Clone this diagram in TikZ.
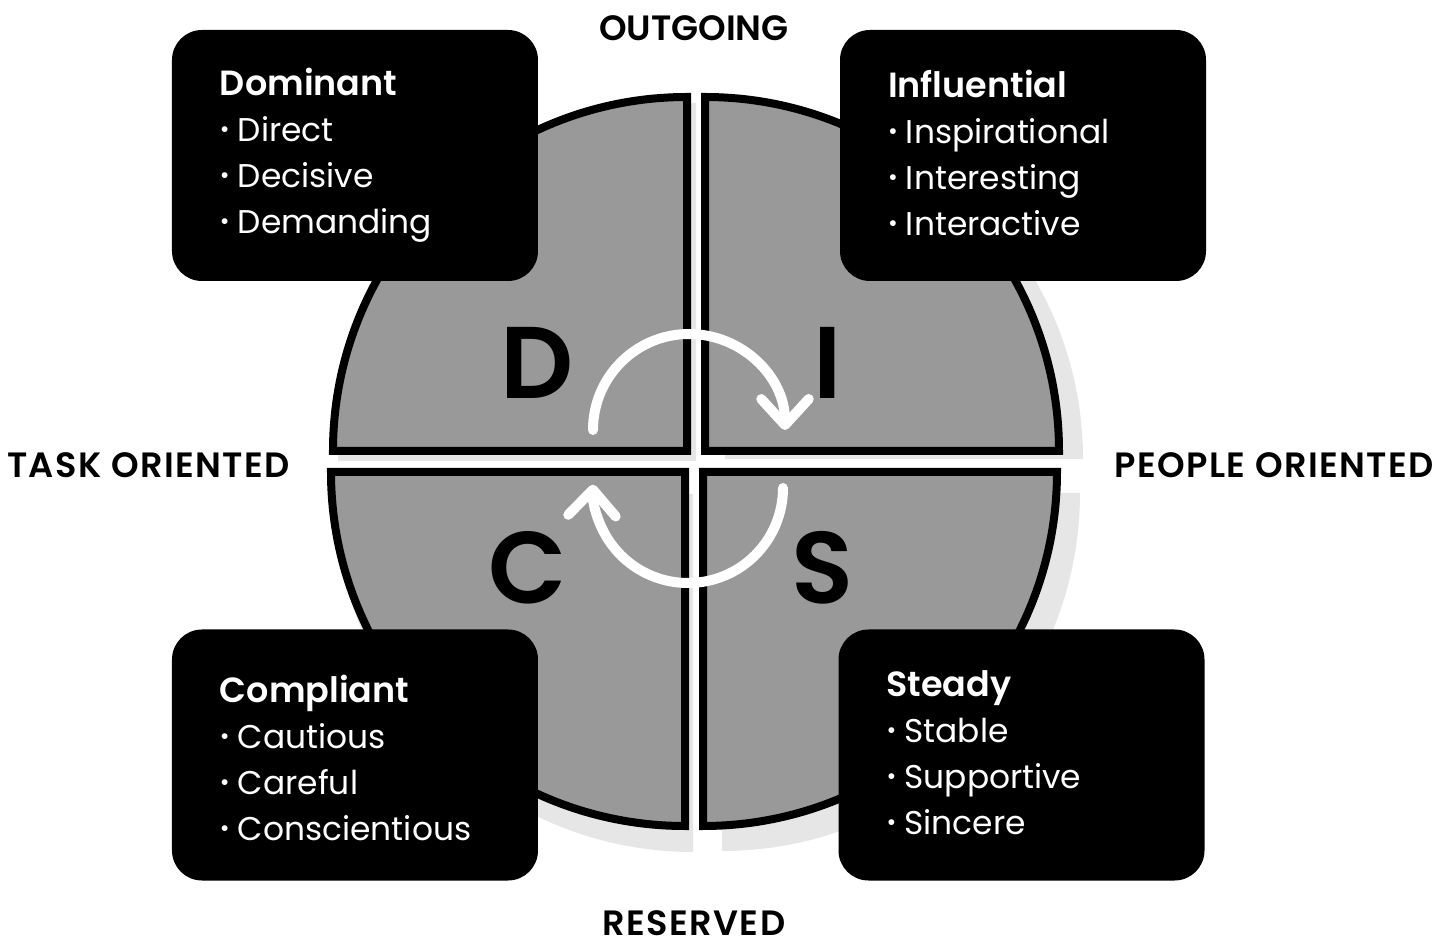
\documentclass[tikz,border=0pt]{standalone}
\usepackage{fontspec}
\setmainfont{Poppins}
\IfFontExistsTF{Poppins SemiBold}{\newfontfamily\heavy{Poppins SemiBold}}{\newcommand{\heavy}{\bfseries}}
\usetikzlibrary{calc,arrows.meta}
\definecolor{discgray}{HTML}{999999}
\definecolor{backgray}{HTML}{E6E6E6}
\tikzset{
  sector/.style={draw=black,fill=discgray,line width=0.16cm,miter limit=10},
  backdrop/.style={fill=backgray},
  card/.style={fill=black,rounded corners=0.6cm,minimum width=7.32cm,minimum height=5.02cm},
  title/.style={text=white,font=\fontsize{19.9}{22}\selectfont\heavy,inner sep=0pt,anchor=base west},
  trait/.style={text=white,font=\fontsize{18.7}{22}\selectfont,inner sep=0pt,anchor=base west},
  letter/.style={font=\fontsize{58}{64}\selectfont\heavy},
  axis/.style={font=\fontsize{20}{22}\selectfont\heavy,inner sep=0pt},
  wideaxis/.style={axis,font=\fontsize{20}{22}\selectfont\heavy\addfontfeatures{LetterSpace=4}},
  cyclearrow/.style={white,line width=0.2cm,line cap=round,-{Straight Barb[length=0.52cm,width=0.95cm,round]}}
}
\newcommand{\itm}{\raisebox{0.12em}{\scalebox{0.72}{•}}\hspace{0.25em}}

\begin{document}
\begin{tikzpicture}
  \useasboundingbox (-13.88,-9.58) rectangle (15.22,9.22);
  % quarter corners
  \coordinate (dq) at (-0.14,0.2);
  \coordinate (iq) at (0.22,0.2);
  \coordinate (sq) at (0.18,-0.22);
  \coordinate (cq) at (-0.18,-0.22);
  % shadows, then the four quarters
  \foreach \q/\a/\dx/\dy in {dq/180/0.18/-0.2, iq/90/0.4/-0.16, sq/0/0.38/-0.42, cq/270/0.16/-0.44}
    \fill[backdrop] ($(\q)+(\dx,\dy)$) -- ++(\a:7.16) arc[start angle=\a,end angle=\a-90,radius=7.16] -- cycle;
  \foreach \q/\a in {dq/180,iq/90,sq/0,cq/270}
    \draw[sector] (\q) -- ++(\a:7.08) arc[start angle=\a,end angle=\a-90,radius=7.08] -- cycle;

  \node[letter] (dL) at (-3.14,1.96) {D};
  \node[letter] (iL) at (2.68,1.96) {I};
  \node[letter] (cL) at (-3.32,-2.14) {C};
  \node[letter] (sL) at (2.58,-2.14) {S};

  % white turning arrows
  \coordinate (hubT) at (-0.1,0.62);
  \coordinate (hubB) at (-0.12,-0.54);
  \draw[cyclearrow] ($(hubT)+(180:1.92)$) arc[start angle=180,end angle=0,radius=1.92];
  \draw[cyclearrow] ($(hubB)+(0:1.9)$) arc[start angle=0,end angle=-182,radius=1.9];

  \node[card] (dom) at (-6.78,6.11) {};
  \node[card] (inf) at (6.58,6.11) {};
  \node[card] (com) at (-6.78,-5.88) {};
  \node[card] (ste) at (6.55,-5.88) {};

  \node[title] (domT) at ($(dom.north west)+(0.96,-1.32)$) {Dominant};
  \foreach \t [count=\i] in {Direct,Decisive,Demanding}
    \node[trait] at ($(domT.base west)+(0,-0.92*\i)$) {\itm\t};
  \node[title] (infT) at ($(inf.north west)+(0.96,-1.36)$) {Influential};
  \foreach \t [count=\i] in {Inspirational,Interesting,Interactive}
    \node[trait] at ($(infT.base west)+(0,-0.92*\i)$) {\itm\t};
  \node[title] (comT) at ($(com.north west)+(0.96,-1.46)$) {Compliant};
  \foreach \t [count=\i] in {Cautious,Careful,Conscientious}
    \node[trait] at ($(comT.base west)+(0,-0.92*\i)$) {\itm\t};
  \node[title] (steT) at ($(ste.north west)+(0.96,-1.34)$) {Steady};
  \foreach \t [count=\i] in {Stable,Supportive,Sincere}
    \node[trait] at ($(steT.base west)+(0,-0.92*\i)$) {\itm\t};

  \node[axis] (out) at (0,8.66) {OUTGOING};
  \node[wideaxis] (res) at (0,-9.24) {RESERVED};
  \node[wideaxis] (task) at (-10.91,-0.08) {TASK ORIENTED};
  \node[wideaxis] (ppl) at (11.6,-0.08) {PEOPLE ORIENTED};
\end{tikzpicture}
\end{document}
